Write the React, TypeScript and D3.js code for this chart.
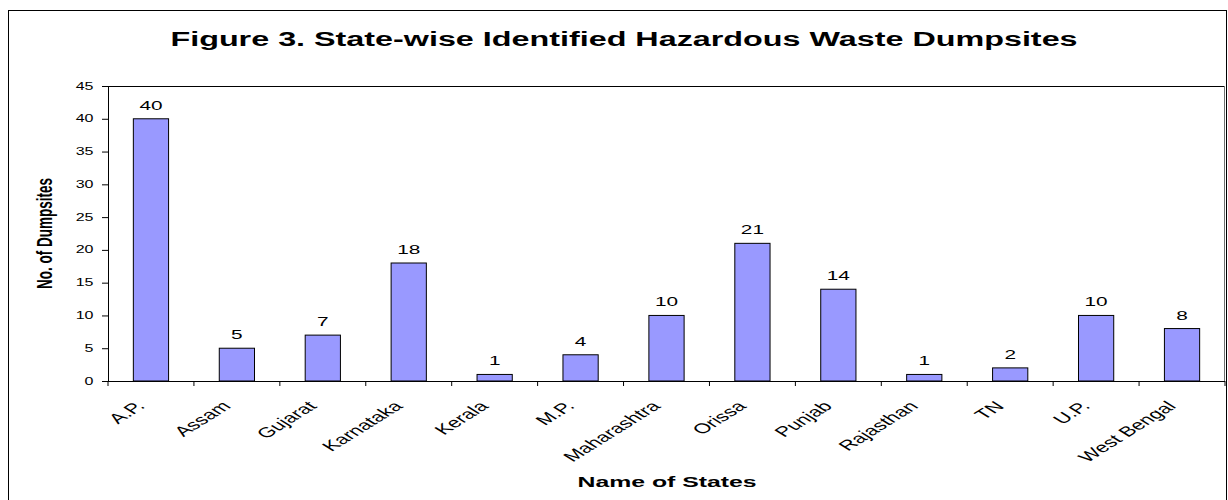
import React from "react";
import * as d3 from "d3";

const states = ["A.P.", "Assam", "Gujarat", "Karnataka", "Kerala", "M.P.", "Maharashtra", "Orissa", "Punjab", "Rajasthan", "TN", "U.P.", "West Bengal"];
const dumpsites = [40, 5, 7, 18, 1, 4, 10, 21, 14, 1, 2, 10, 8];
const yTicks = [0, 5, 10, 15, 20, 25, 30, 35, 40, 45];

const W = 1228;
const H = 500;
const S = 1.6; // horizontal text stretch
const FONT = "'Liberation Sans', Arial, Helvetica, sans-serif";

export default function App() {
  const left = 108, right = 1225, top = 86, bottom = 381;
  const x = d3.scaleBand<string>().domain(states).range([left, right]).padding(0);
  const y = d3.scaleLinear().domain([0, 45]).range([bottom, top]);
  const bw = x.bandwidth() * 0.41;
  const boundaries = d3.range(states.length + 1).map((i) => left + i * x.step());

  return (
    <svg width={W} height={H} style={{ position: "absolute", left: 0, top: 0, background: "#fff" }} fontFamily={FONT}>
      <rect x={0} y={0} width={W} height={H} fill="#fff" />
      <rect x={8.5} y={10.5} width={1218} height={520} fill="none" stroke="#000" strokeWidth={1} />
      {/* Title */}
      <g transform={`translate(624,46) scale(${S},1)`}>
        <text textAnchor="middle" fontWeight="bold" fontSize={20.2} fill="#000">
          Figure 3. State-wise Identified Hazardous Waste Dumpsites
        </text>
      </g>
      {/* Plot area border */}
      <line x1={left} x2={right} y1={top + 0.5} y2={top + 0.5} stroke="#000" />
      <line x1={right - 0.5} x2={right - 0.5} y1={top} y2={bottom} stroke="#707070" />
      {/* Bars */}
      {states.map((s, i) => {
        const cx = (x(s) as number) + x.bandwidth() / 2;
        const v = dumpsites[i];
        return (
          <g key={s}>
            <rect x={cx - bw / 2} y={y(v)} width={bw} height={y(0) - y(v)} fill="#9999FF" stroke="#000" strokeWidth={1} />
            <g transform={`translate(${cx},${y(v) - 9}) scale(${S},1)`}>
              <text textAnchor="middle" fontSize={13} fill="#000">{v}</text>
            </g>
          </g>
        );
      })}
      {/* Y axis */}
      <line x1={left + 0.5} x2={left + 0.5} y1={top} y2={bottom} stroke="#000" />
      {yTicks.map((t) => (
        <g key={t}>
          <line x1={left - 6} x2={left} y1={y(t) + 0.5} y2={y(t) + 0.5} stroke="#000" />
          <g transform={`translate(93.5,${y(t)}) scale(${S},1)`}>
            <text textAnchor="end" dy="0.35em" fontSize={10} fill="#000">{t}</text>
          </g>
        </g>
      ))}
      {/* X axis */}
      <line x1={left} x2={right} y1={bottom + 0.5} y2={bottom + 0.5} stroke="#000" />
      {boundaries.map((b, i) => (
        <line key={i} x1={b} x2={b} y1={bottom} y2={bottom + 5} stroke="#000" />
      ))}
      {states.map((s) => {
        const cx = (x(s) as number) + x.bandwidth() / 2;
        return (
          <g key={s} transform={`translate(${cx - 5},${bottom + 26}) scale(${S},1) rotate(-45)`}>
            <text textAnchor="end" fontSize={14} fill="#000">{s}</text>
          </g>
        );
      })}
      {/* Axis titles */}
      <g transform={`translate(667,487) scale(${S},1)`}>
        <text textAnchor="middle" fontWeight="bold" fontSize={15.5} fill="#000">Name of States</text>
      </g>
      <g transform={`translate(52,${(top + bottom) / 2}) scale(${S},1) rotate(-90)`}>
        <text textAnchor="middle" fontWeight="bold" fontSize={13.5} fill="#000">No. of Dumpsites</text>
      </g>
    </svg>
  );
}
